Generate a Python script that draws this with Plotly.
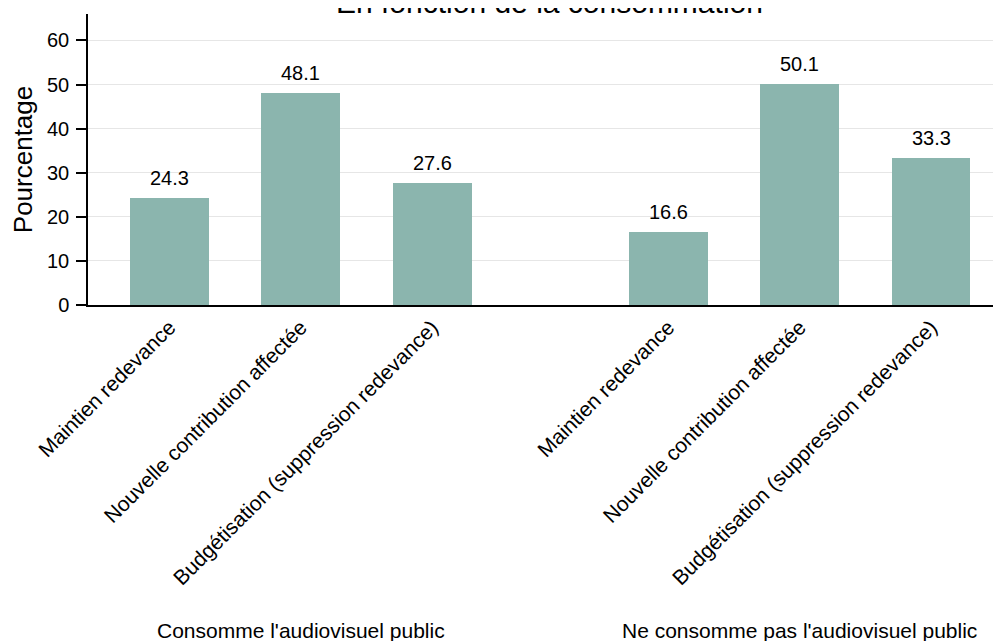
import plotly.graph_objects as go

# ---- data ----
groups = ["Consomme l'audiovisuel public", "Ne consomme pas l'audiovisuel public"]
categories = ["Maintien redevance", "Nouvelle contribution affectée",
              "Budgétisation (suppression redevance)"]
values_consomme = [24.3, 48.1, 27.6]
values_ne_consomme = [16.6, 50.1, 33.3]
y_ticks = [0, 10, 20, 30, 40, 50, 60]
title_text = "En fonction de la consommation"
y_title = "Pourcentage"

# ---- layout params ----
group_offset = 3.8
bar_color = "#8bb5ae"
font_family = "Liberation Sans, Arial, Helvetica, sans-serif"

series = [values_consomme, values_ne_consomme]
xs, ys, tick_text = [], [], []
for g, vals in enumerate(series):
    for i, v in enumerate(vals):
        xs.append(i + g * group_offset)
        ys.append(v)
        tick_text.append(categories[i])

fig = go.Figure()
fig.add_trace(go.Bar(x=xs, y=ys, width=0.6, marker=dict(color=bar_color, line=dict(width=0)),
                     hoverinfo="skip", showlegend=False))

annotations = []
for x, y in zip(xs, ys):
    annotations.append(dict(x=x, y=y, xref="x", yref="y", text=f"{y:.1f}", showarrow=False,
                            yanchor="middle", yshift=20,
                            font=dict(size=20, color="black", family=font_family)))
for g, vals in enumerate(series):
    cx = (len(vals) - 1) / 2 + g * group_offset
    annotations.append(dict(x=cx, y=-1.117, xref="x", yref="paper", text=groups[g],
                            showarrow=False, yanchor="middle",
                            font=dict(size=21, color="black", family=font_family)))
annotations.append(dict(x=0.506, y=1.04, xref="paper", yref="paper", text=title_text,
                        showarrow=False, yanchor="middle",
                        font=dict(size=30, color="black", family=font_family)))

# page body has an 8px margin, so the figure is sized to fill the rest of the window
fig.update_layout(
    width=993, height=633,
    margin=dict(l=80, r=0, t=6, b=336, autoexpand=False),
    plot_bgcolor="white", paper_bgcolor="white",
    font=dict(family=font_family, color="black"),
    annotations=annotations,
    bargap=0,
)
fig.update_xaxes(
    tickmode="array", tickvals=xs, ticktext=tick_text, tickangle=-45,
    tickfont=dict(size=21, color="black"),
    range=[-0.621, 6.333], showgrid=False, zeroline=False,
    showline=True, linecolor="black", linewidth=1.5, ticks="",
    automargin=False,
)
fig.update_yaxes(
    range=[0, 66], tickmode="array", tickvals=y_ticks,
    tickfont=dict(size=20, color="black"),
    showgrid=True, gridcolor="#e6e6e6", gridwidth=1, zeroline=False,
    showline=True, linecolor="black", linewidth=1.5,
    ticks="outside", ticklen=10, tickwidth=1.5, tickcolor="black",
    ticklabelstandoff=3, automargin=False,
    title=dict(text=y_title, font=dict(size=26, color="black"), standoff=8),
)

fig.write_html("out.html")
